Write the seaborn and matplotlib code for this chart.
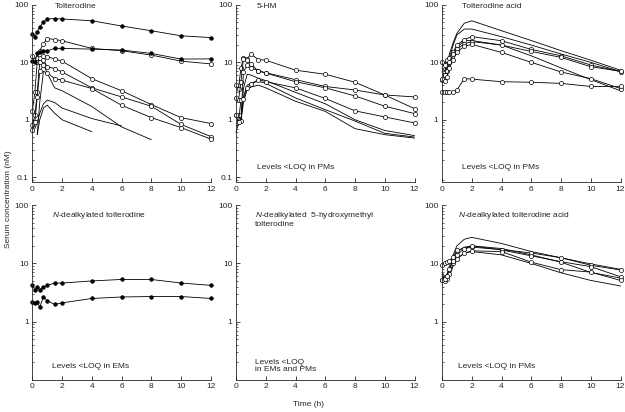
import numpy as np
import pandas as pd
import matplotlib
matplotlib.use('Agg')
import matplotlib.pyplot as plt
import seaborn as sns
from matplotlib.ticker import FixedLocator, FixedFormatter, LogLocator, NullFormatter

nan = np.nan

# sampling times (h)
hours = [0, 0.17, 0.33, 0.5, 0.75, 1, 1.5, 2, 4, 6, 8, 10, 12]

# Tolterodine
tol_pm_a = [31, 28, 34, 42, 50, 57, 58, 57, 53, 43, 35.5, 29, 27]
tol_pm_b = [10.6, 10, 14.3, 15, 16, 15.9, 17.5, 17.5, 17, 16.4, 14.3, 11.4, 11.5]
tol_em_c = [13, 11, 12, 16, 21, 26, 25, 23.8, 17.5, 15.9, 13.4, 10.5, 9.4]
tol_em_d = [1.4, 3.0, 10, 12, 13, 12.5, 11.5, 10.5, 5.2, 3.2, 1.84, 1.09, 0.86]
tol_em_e = [0.8, 1.2, 3.0, 10, 11, 8.4, 7.8, 6.8, 3.6, 2.5, 1.72, 0.83, 0.51]
tol_em_f = [0.65, 0.9, 2.5, 7, 9, 6.6, 5.2, 4.9, 3.5, 1.79, 1.09, 0.73, 0.46]
tol_g = [nan, nan, 0.55, 2.0, 7.0, 6.5, 3.6, 3.2, 1.7, 0.75, 0.45, nan, nan]
tol_h = [nan, 0.7, 0.9, 1.3, 1.9, 2.2, 2.0, 1.6, 1.05, 0.78, nan, nan, nan]
tol_i = [nan, nan, 0.55, 1.0, 1.6, 1.8, 1.3, 1.0, 0.62, nan, nan, nan, nan]

# 5-HM
hm_a = [4.0, 3.5, 8, 12, 11.5, 14, 11.2, 10.9, 7.3, 6.2, 4.5, 2.7, 1.56]
hm_b = [2.4, 2.2, 4.5, 11.5, 11, 9.5, 7.0, 6.6, 5.0, 3.8, 3.3, 2.7, 2.5]
hm_c = [1.2, 1.2, 0.95, 6.8, 9.0, 8.0, 7.2, 6.5, 4.6, 3.6, 2.6, 1.72, 1.28]
hm_d = [1.2, 0.9, 2.2, 2.3, 3.6, 4.2, 5.0, 4.6, 3.6, 2.35, 1.43, 1.12, 0.88]
hm_e = [0.6, 0.9, 1.0, 3.5, 6.2, 6.0, 5.3, 4.8, 3.0, 1.9, 1.0, 0.65, 0.53]
hm_f = [nan, 0.8, 1.0, 2.5, 4.0, 4.3, 4.7, 4.3, 2.4, 1.5, 0.95, 0.58, 0.5]
hm_g = [nan, nan, 0.9, 2.0, 3.4, 3.7, 4.0, 3.6, 2.1, 1.4, 0.7, 0.55, 0.48]

# Tolterodine acid
ta_a = [8, 7, 9, 14, 22, 32, 48, 53, 35.6, 24, 16, 10.9, 7.3]
ta_b = [7, 6, 8, 12, 20, 30, 38, 38, 28, 20, 14, 10, 6.9]
ta_c = [10, 9, 11, 12, 15, 20, 25, 28, 23.8, 16.8, 13, 9, 6.9]
ta_d = [5, 6, 7, 10, 14, 17, 21, 23, 20, 15.5, 12.2, 8.4, 7]
ta_e = [5.2, 4.8, 5.5, 8, 11, 15, 19, 20.6, 14.9, 10, 6.8, 5.2, 3.5]
ta_f = [3.0, 3.0, 3.0, 3.0, 3.0, 3.3, 5.2, 5.1, 4.6, 4.5, 4.3, 3.8, 3.8]
ta_g = [9, 10, 6, 9, 14, 18, 24, 24, 20, 13, 8, 5, 3.2]

# N-dealkylated tolterodine
nd_a = [4.2, 3.5, 3.9, 3.5, 3.9, 4.2, 4.6, 4.6, 5.0, 5.3, 5.3, 4.6, 4.2]
nd_b = [2.15, 2.1, 2.15, 1.8, 2.65, 2.3, 1.97, 2.1, 2.5, 2.65, 2.7, 2.7, 2.5]

# N-dealkylated tolterodine acid
nda_a = [7, 6, 6.5, 9, 14, 20, 26, 28, 22, 16, 12.5, 9.8, 7.9]
nda_b = [9.5, 10, 10.5, 11, 13, 17, 18, 19, 17.3, 15.1, 12.5, 9.3, 7.7]
nda_c = [5.2, 5, 5.5, 6.5, 10, 14, 18, 20, 17, 13.5, 10.7, 8.8, 5.9]
nda_d = [5.2, 5.5, 6, 8, 11, 12, 15, 16.4, 16, 10.5, 7.8, 7.1, 5.1]
nda_e = [6.5, 5.2, 5.0, 6, 9, 12, 15, 16, 14, 10, 6.9, 5.1, 4.1]
nda_f = [6, 5.5, 6, 8, 12, 16, 19, 20, 18, 14, 10.5, 7, 5.6]

sns.set_style('ticks')
plt.rcParams['font.family'] = ['Liberation Sans', 'DejaVu Sans']
plt.rcParams['mathtext.fontset'] = 'custom'
plt.rcParams['mathtext.it'] = 'Liberation Sans:italic'
plt.rcParams['mathtext.rm'] = 'Liberation Sans'

fig = plt.figure(figsize=(6.25, 4.12), dpi=100)

col_x = [0.0517, 0.3776, 0.7072]
w = 0.2856
top_y, top_h = 0.558, 0.430
bot_y, bot_h = 0.078, 0.424


def draw(ax, values, style):
    v = np.array(values, dtype=float)
    t = np.array(hours, dtype=float)
    m = ~np.isnan(v)
    kw = dict(color='black', linewidth=0.6, clip_on=False)
    if style == 'filled':
        kw.update(marker='o', markersize=2.6, markerfacecolor='black',
                  markeredgecolor='black', markeredgewidth=0.5)
    elif style == 'open':
        kw.update(marker='o', markersize=3.0, markerfacecolor='white',
                  markeredgecolor='black', markeredgewidth=0.5)
    sns.lineplot(x=t[m], y=v[m], ax=ax, estimator=None, sort=False, **kw)


def setup(ax, ymin, yticks):
    ax.set_yscale('log')
    ax.set_xlim(0, 12)
    ax.set_ylim(ymin, 100)
    ax.set_xticks(range(0, 13, 2))
    ax.set_xticklabels([str(i) for i in range(0, 13, 2)])
    ax.yaxis.set_major_locator(FixedLocator(yticks))
    ax.yaxis.set_major_formatter(FixedFormatter(['%g' % y for y in yticks]))
    ax.yaxis.set_minor_locator(LogLocator(base=10, subs=np.arange(2, 10)))
    ax.yaxis.set_minor_formatter(NullFormatter())
    ax.tick_params(axis='both', which='major', direction='in', length=3,
                   width=0.6, labelsize=6, pad=2.5)
    ax.tick_params(axis='y', which='minor', direction='in', length=1.6, width=0.5)
    for s in ['top', 'right']:
        ax.spines[s].set_visible(False)
    for s in ['left', 'bottom']:
        ax.spines[s].set_linewidth(0.6)
    ax.set_xlabel('')
    ax.set_ylabel('')


def label(ax, x, y, s, va='top'):
    ax.text(x, y, s, transform=ax.transAxes, fontsize=6, ha='left', va=va,
            linespacing=1.0)


# top row
ax1 = fig.add_axes([col_x[0], top_y, w, top_h])
for s in [tol_g, tol_h, tol_i]:
    draw(ax1, s, 'plain')
for s in [tol_em_c, tol_em_d, tol_em_e, tol_em_f]:
    draw(ax1, s, 'open')
for s in [tol_pm_a, tol_pm_b]:
    draw(ax1, s, 'filled')
setup(ax1, 0.082, [0.1, 1, 10, 100])
label(ax1, 0.125, 1.01, 'Tolterodine')

ax2 = fig.add_axes([col_x[1], top_y, w, top_h])
for s in [hm_e, hm_f, hm_g]:
    draw(ax2, s, 'plain')
for s in [hm_a, hm_b, hm_c, hm_d]:
    draw(ax2, s, 'open')
setup(ax2, 0.082, [0.1, 1, 10, 100])
label(ax2, 0.115, 1.01, '5-HM')
label(ax2, 0.115, 0.085, 'Levels <LOQ in PMs', va='center')

ax3 = fig.add_axes([col_x[2], top_y, w, top_h])
for s in [ta_a, ta_b, ta_g]:
    draw(ax3, s, 'plain')
for s in [ta_c, ta_d, ta_e, ta_f]:
    draw(ax3, s, 'open')
setup(ax3, 0.082, [1, 10, 100])
label(ax3, 0.11, 1.01, 'Tolterodine acid')
label(ax3, 0.11, 0.085, 'Levels <LOQ in PMs', va='center')

# bottom row
ax4 = fig.add_axes([col_x[0], bot_y, w, bot_h])
for s in [nd_a, nd_b]:
    draw(ax4, s, 'filled')
setup(ax4, 0.1, [1, 10, 100])
label(ax4, 0.11, 0.975, r'$\it{N}$-dealkylated tolterodine')
label(ax4, 0.11, 0.078, 'Levels <LOQ in EMs', va='center')

ax5 = fig.add_axes([col_x[1], bot_y, w, bot_h])
setup(ax5, 0.1, [1, 10, 100])
label(ax5, 0.105, 0.975, r'$\it{N}$-dealkylated  5-hydroxymethyl' + '\ntolterodine')
label(ax5, 0.105, 0.08, 'Levels <LOQ\nin EMs and PMs', va='center')

ax6 = fig.add_axes([col_x[2], bot_y, w, bot_h])
for s in [nda_a, nda_e, nda_f]:
    draw(ax6, s, 'plain')
for s in [nda_b, nda_c, nda_d]:
    draw(ax6, s, 'open')
setup(ax6, 0.1, [1, 10, 100])
label(ax6, 0.09, 0.975, r'$\it{N}$-dealkylated tolterodine acid')
label(ax6, 0.09, 0.078, 'Levels <LOQ in PMs', va='center')

fig.text(0.013, 0.517, 'Serum concentration (nM)', rotation=90, fontsize=6,
         ha='center', va='center')
fig.text(0.494, 0.017, 'Time (h)', fontsize=6, ha='center', va='center')

fig.savefig('out.png', dpi=100, facecolor='white')
